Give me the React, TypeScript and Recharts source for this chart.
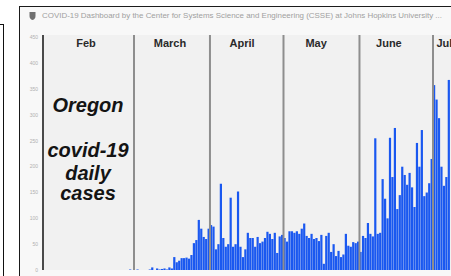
import React from 'react';
import { BarChart, Bar, XAxis, YAxis, ReferenceLine, CartesianGrid } from 'recharts';

// Oregon daily new cases, one value per day starting Jan 22, 2020
const dailyCases: number[] = [
  // Jan 22 - Feb 29
  0, 0, 0, 0, 0, 0, 0, 0, 0, 0,
  0, 0, 0, 0, 0, 0, 0, 0, 0, 0,
  0, 0, 0, 0, 0, 0, 0, 0, 0, 0,
  0, 0, 0, 0, 0, 0, 0, 1, 0,
  // Mar 1 - Mar 31
  0, 1, 0, 0, 0, 0, 1, 5, 0, 3, 1, 2, 3, 1, 5, 3,
  25, 15, 18, 23, 23, 24, 22, 29, 52, 58, 97, 80, 64, 60, 80,
  // Apr 1 - Apr 30
  87, 84, 40, 50, 167, 62, 45, 50, 140, 45, 50, 152, 45, 25, 40,
  72, 62, 62, 45, 64, 52, 55, 62, 74, 70, 60, 72, 33, 65, 68,
  // May 1 - May 31
  62, 55, 75, 75, 72, 75, 70, 80, 90, 66, 62, 70, 60, 62, 56, 68,
  12, 66, 72, 35, 50, 27, 37, 25, 30, 70, 47, 45, 54, 52, 55,
  // Jun 1 - Jun 30
  35, 66, 62, 91, 70, 65, 255, 70, 72, 176, 138, 100, 256, 180, 275,
  118, 145, 200, 184, 165, 188, 160, 122, 246, 200, 271, 143, 150, 168, 215,
  // Jul 1 - Jul 7
  358, 330, 294, 200, 163, 180, 368,
];

const yTicks: number[] = [0, 50, 100, 150, 200, 250, 300, 350, 400, 450];

// day index (from Jan 22) of the boundary between months: Mar 1, Apr 1, May 1, Jun 1, Jul 1
const monthBoundaryDays: number[] = [38.5, 69.5, 99.5, 130.5, 160.5];

const monthNames: string[] = ['Feb', 'March', 'April', 'May', 'June', 'July'];
const monthLabelDays: number[] = [18.9, 53.2, 82.6, 112.8, 142.5, 166.4];

const overlayLines: string[] = ['Oregon', 'covid-19', 'daily', 'cases'];
const overlayBaselines: number[] = [112, 157, 180, 200];

const titleText =
  'COVID-19 Dashboard by the Center for Systems Science and Engineering (CSSE) at Johns Hopkins University ...';

const data = dailyCases.map((cases, day) => ({ day, cases }));

export default function App() {
  return (
    <div
      style={{
        position: 'fixed',
        left: 0,
        top: 0,
        width: 451,
        height: 276,
        overflow: 'hidden',
        background: '#ffffff',
        fontFamily: '"Liberation Sans", Arial, sans-serif',
      }}
    >
      {/* left partial box */}
      <div
        style={{
          position: 'absolute',
          left: -10,
          top: 24,
          width: 13,
          height: 300,
          borderTop: '1.5px solid #111',
          borderRight: '1.5px solid #111',
        }}
      />
      {/* dashboard frame */}
      <div
        style={{
          position: 'absolute',
          left: 19,
          top: 6,
          width: 470,
          height: 300,
          border: '1.5px solid #1a1a1a',
          background: '#f8f8f8',
        }}
      />
      <div style={{ position: 'absolute', left: 0, top: 0 }}>
        <BarChart
          width={451}
          height={276}
          data={data}
          margin={{ top: 35, right: 0, bottom: 6, left: 0 }}
        >
          <CartesianGrid horizontal={false} vertical={false} fill="#f1f1f1" stroke="none" />
          <XAxis
            type="number"
            dataKey="day"
            domain={[1.38, 167.84]}
            allowDataOverflow
            tick={false}
            tickLine={false}
            axisLine={{ stroke: '#333333', strokeWidth: 2 }}
            height={0}
          />
          <YAxis
            type="number"
            domain={[0, 455]}
            ticks={yTicks}
            width={43}
            tickLine={false}
            tickSize={4}
            tickMargin={1}
            axisLine={{ stroke: '#4a4a4a', strokeWidth: 2 }}
            tick={{ fontSize: 5, fill: '#b0b0b0' }}
            interval={0}
          />
          {monthBoundaryDays.map((d) => (
            <ReferenceLine key={'b' + d} x={d} stroke="#8e8e8e" strokeWidth={2} />
          ))}
          {monthNames.map((name, i) => (
            <ReferenceLine
              key={name}
              x={monthLabelDays[i]}
              stroke="none"
              label={{
                value: name,
                position: 'insideTop',
                offset: 4,
                fill: '#2a2a2a',
                fontSize: 11,
                fontWeight: 700,
              }}
            />
          ))}
          <Bar dataKey="cases" fill="#1a58f0" barSize={3} isAnimationActive={false} />
        </BarChart>
      </div>
      <svg
        width={451}
        height={276}
        style={{ position: 'absolute', left: 0, top: 0, pointerEvents: 'none' }}
      >
        <path d="M29.5 12 L35.5 12 L35.5 16 Q35.5 19 32.5 20 Q29.5 19 29.5 16 Z" fill="#707070" />
        <text
          x={42}
          y={18}
          fontSize={6.5}
          fill="#a0a0a0"
          textLength={400}
          lengthAdjust="spacingAndGlyphs"
          fontFamily='"Liberation Sans", Arial, sans-serif'
        >
          {titleText}
        </text>
        {overlayLines.map((line, i) => (
          <text
            key={line}
            x={88}
            y={overlayBaselines[i]}
            textAnchor="middle"
            fontSize={20}
            fontWeight={700}
            fontStyle="italic"
            fill="#141414"
            fontFamily='"Liberation Sans", Arial, sans-serif'
          >
            {line}
          </text>
        ))}
      </svg>
    </div>
  );
}
